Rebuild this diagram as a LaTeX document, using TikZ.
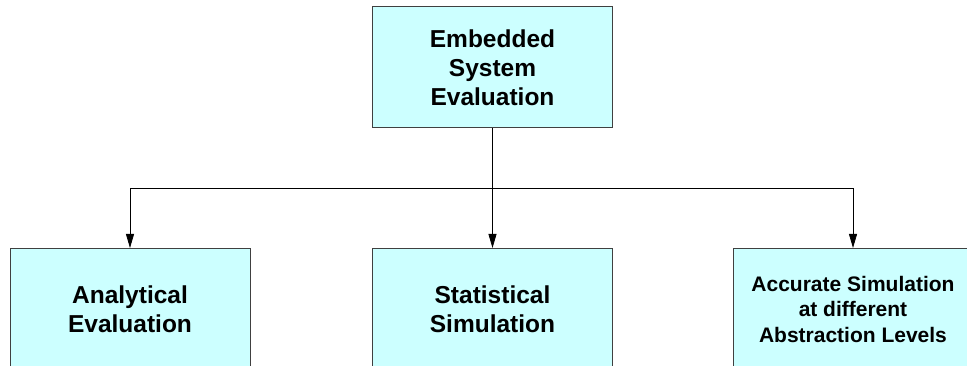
\documentclass[tikz,border=0pt]{standalone}
\usepackage{fontspec}
\setmainfont{Liberation Sans}
\usepackage{xcolor}
\usepackage{tikz}
\usetikzlibrary{arrows.meta, positioning}
\definecolor{boxfill}{HTML}{CCFFFF}
\definecolor{boxline}{HTML}{404040}

\begin{document}
\begin{tikzpicture}[
          x=1pt, y=-1pt,
          every node/.style={align=center},
          evalbox/.style={draw=boxline, fill=boxfill, line width=1pt,
            minimum width=240pt, minimum height=121pt,
            font=\bfseries\fontsize{24.5}{29}\selectfont},
          arrow/.style={-{Triangle[length=14pt, width=8pt]}, line width=0.8pt}
        ]
          \useasboundingbox (0,0) rectangle (967,366);

          % Box on top
          \node[evalbox] (system) at (492.5,67.5) {Embedded\\System\\Evaluation};

          % Boxes below
          \node[evalbox] (analytical) at (130,309) {Analytical\\Evaluation};
          \node[evalbox] (statistical) at (492.5,309) {Statistical\\Simulation};
          \node[evalbox, font=\bfseries\fontsize{21}{25.5}\selectfont] (accurate) at (853,309)
            {Accurate Simulation\\at different\\Abstraction Levels};

          % Arrows
          \coordinate (split) at (492.5,188);
          \draw[line width=0.8pt] (system.south) -- (split);
          \draw[arrow] (split) -| (analytical.north);
          \draw[arrow] (split) -- (statistical.north);
          \draw[arrow] (split) -| (accurate.north);
        \end{tikzpicture}
\end{document}
